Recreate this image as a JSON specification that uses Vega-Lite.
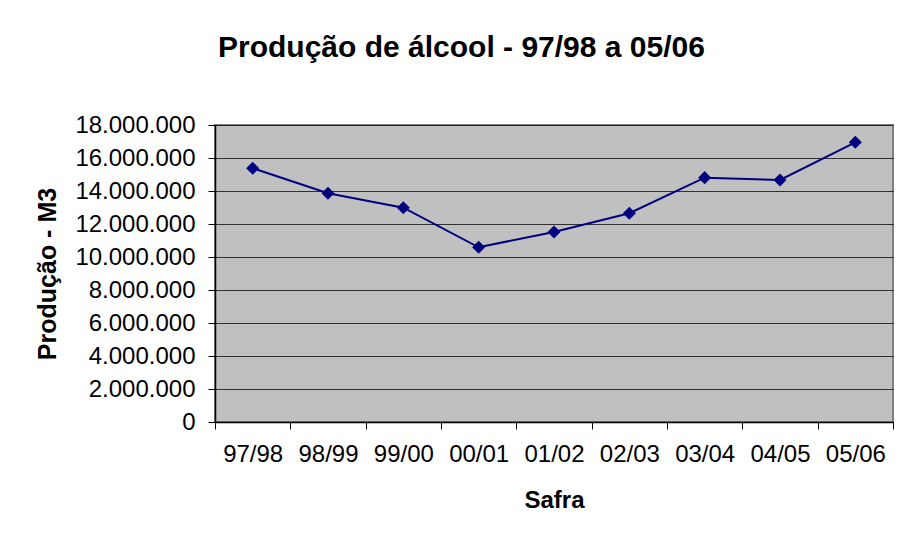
{
  "$schema": "https://vega.github.io/schema/vega-lite/v6.json",
  "width": 678,
  "height": 297,
  "autosize": {"type": "none"},
  "padding": {"left": 215, "top": 125, "right": 7, "bottom": 118},
  "background": "white",
  "config": {
    "font": "Liberation Sans",
    "locale": {"number": {"decimal": ",", "thousands": ".", "grouping": [3], "currency": ["R$", ""]}},
    "view": {"fill": "#C0C0C0", "stroke": "#808080", "strokeWidth": 2},
    "axis": {"labelColor": "#000", "titleColor": "#000", "tickColor": "#000", "domainColor": "#000"}
  },
  "title": {
    "text": "Produção de álcool - 97/98 a 05/06",
    "anchor": "start",
    "frame": "group",
    "dx": 3,
    "fontSize": 30,
    "fontWeight": "bold",
    "color": "#000",
    "font": "Liberation Sans",
    "offset": 50
  },
  "data": {
    "values": [
      {"safra": "97/98", "producao": 15380000},
      {"safra": "98/99", "producao": 13860000},
      {"safra": "99/00", "producao": 12990000},
      {"safra": "00/01", "producao": 10590000},
      {"safra": "01/02", "producao": 11520000},
      {"safra": "02/03", "producao": 12650000},
      {"safra": "03/04", "producao": 14810000},
      {"safra": "04/05", "producao": 14670000},
      {"safra": "05/06", "producao": 16950000}
    ]
  },
  "encoding": {
    "x": {
      "field": "safra",
      "type": "ordinal",
      "sort": null,
      "scale": {"type": "band", "paddingInner": 0, "paddingOuter": 0},
      "axis": {
        "title": "Safra",
        "titleFontSize": 24,
        "titleFontWeight": "bold",
        "titlePadding": 22,
        "labelFontSize": 24,
        "labelAngle": 0,
        "labelPadding": 13,
        "tickSize": 7,
        "tickBand": "extent",
        "domainWidth": 1.5,
        "grid": false
      }
    },
    "y": {
      "field": "producao",
      "type": "quantitative",
      "scale": {"domain": [0, 18000000], "nice": false},
      "axis": {
        "title": "Produção - M3",
        "titleFontSize": 25,
        "titleFontWeight": "bold",
        "titlePadding": 14,
        "labelFontSize": 24,
        "labelPadding": 13,
        "tickSize": 7,
        "format": ",d",
        "values": [0, 2000000, 4000000, 6000000, 8000000, 10000000, 12000000, 14000000, 16000000, 18000000],
        "domainWidth": 1.5,
        "grid": true,
        "gridColor": "#000",
        "gridOpacity": 0.75,
        "gridWidth": 1
      }
    }
  },
  "layer": [
    {"mark": {"type": "line", "color": "#000080", "strokeWidth": 2}},
    {"mark": {"type": "point", "shape": "diamond", "filled": true, "color": "#000080", "size": 170, "opacity": 1}}
  ]
}
